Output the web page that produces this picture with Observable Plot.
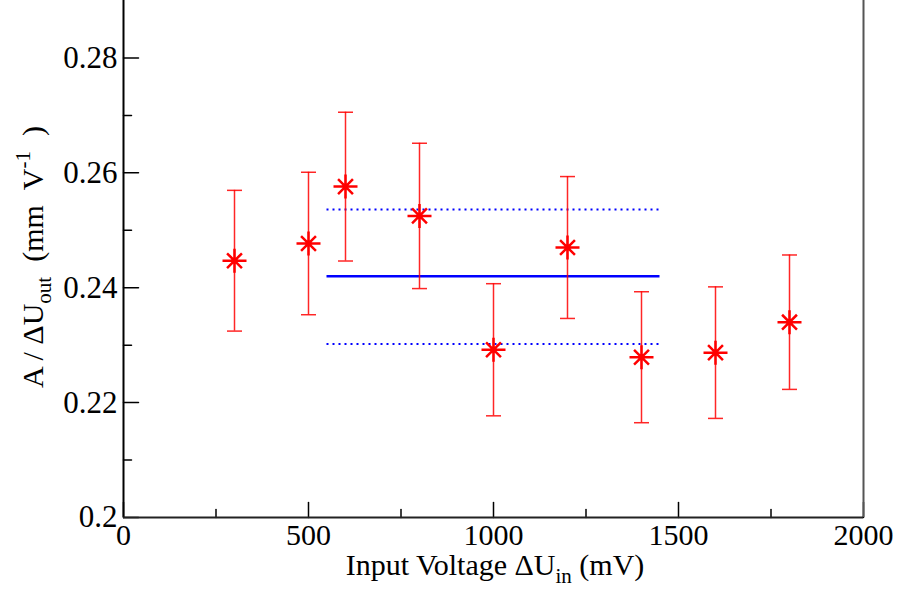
<!DOCTYPE html>
<html>
<head>
<meta charset="utf-8">
<script src="https://cdn.jsdelivr.net/npm/d3@7"></script>
<script src="https://cdn.jsdelivr.net/npm/@observablehq/plot@0.6"></script>
<style>
  html, body { margin: 0; padding: 0; background: #fff; }
  #chart svg { display: block; }
  #chart svg text { font-family: 'Liberation Serif', 'Times New Roman', serif; }
</style>
</head>
<body>
<div id="chart"></div>
<script>
// Data
const voltage = [300, 500, 600, 800, 1000, 1200, 1400, 1600, 1800];   // mV
const ratio   = [0.2447, 0.2477, 0.2576, 0.2525, 0.2292, 0.2470, 0.2279, 0.2287, 0.2340];
const errs    = [0.01225, 0.0124, 0.01295, 0.01265, 0.0115, 0.01235, 0.0114, 0.01145, 0.0117];
const fitRange = [550, 1450];
const fitMean = 0.2420;
const fitLow = 0.2302;
const fitHigh = 0.2536;
const xMajor = [0, 500, 1000, 1500, 2000];
const xMinor = [250, 750, 1250, 1750];
const yMajor = [0.2, 0.22, 0.24, 0.26, 0.28];
const yMinor = [0.21, 0.23, 0.25, 0.27];

const pts = voltage.map((v, i) => ({x: v, y: ratio[i], lo: ratio[i] - errs[i], hi: ratio[i] + errs[i]}));
const fitLines = [
  {x1: fitRange[0], x2: fitRange[1], y: fitMean, kind: "mean"},
  {x1: fitRange[0], x2: fitRange[1], y: fitLow, kind: "band"},
  {x1: fitRange[0], x2: fitRange[1], y: fitHigh, kind: "band"}
];

const starSymbol = {
  draw(ctx, size) {
    const r = Math.sqrt(size / Math.PI);
    const d = r * 0.62;
    ctx.moveTo(-r, 0); ctx.lineTo(r, 0);
    ctx.moveTo(0, -r); ctx.lineTo(0, r);
    ctx.moveTo(-d, -d); ctx.lineTo(d, d);
    ctx.moveTo(-d, d); ctx.lineTo(d, -d);
  }
};
const capSymbol = {
  draw(ctx, size) {
    const r = Math.sqrt(size / Math.PI);
    ctx.moveTo(-r, 0); ctx.lineTo(r, 0);
  }
};
const lineShape = {
  draw(ctx, l) { ctx.moveTo(0, 0); ctx.lineTo(0, -l); }
};

const font = "'Liberation Serif', 'Times New Roman', serif";

const chart = Plot.plot({
  width: 897,
  height: 592,
  marginLeft: 123,
  marginRight: 34,
  marginTop: 0,
  marginBottom: 75,
  style: {fontFamily: font, background: "#fff", overflow: "visible"},
  x: {domain: [0, 2000], label: null},
  y: {domain: [0.2, 0.29], label: null},
  marks: [
    Plot.axisX(xMajor, {tickSize: 0, tickPadding: 6, fontSize: 30, fontFamily: font, fill: "#000", tickFormat: d => String(d)}),
    Plot.axisY(yMajor, {tickSize: 0, tickPadding: 6, fontSize: 31, fontFamily: font, fill: "#000", tickFormat: d => (d === 0.2 ? "0.2" : d.toFixed(2))}),
    // inward ticks
    Plot.vector(xMajor, {x: d => d, frameAnchor: "bottom", length: 15, rotate: 0, anchor: "start", shape: lineShape, stroke: "#000", strokeWidth: 1.5}),
    Plot.vector(xMinor, {x: d => d, frameAnchor: "bottom", length: 8, rotate: 0, anchor: "start", shape: lineShape, stroke: "#000", strokeWidth: 1.5}),
    Plot.vector(yMajor, {y: d => d, frameAnchor: "left", length: 15, rotate: 90, anchor: "start", shape: lineShape, stroke: "#000", strokeWidth: 1.5}),
    Plot.vector(yMinor, {y: d => d, frameAnchor: "left", length: 8, rotate: 90, anchor: "start", shape: lineShape, stroke: "#000", strokeWidth: 1.5}),
    // frame
    Plot.ruleX([2000], {stroke: "#555", strokeWidth: 2}),
    Plot.ruleX([0], {stroke: "#000", strokeWidth: 2}),
    Plot.ruleY([0.2], {stroke: "#222", strokeWidth: 2}),
    // fit lines
    Plot.ruleY(fitLines.filter(d => d.kind === "mean"), {x1: "x1", x2: "x2", y: "y", stroke: "#0000ff", strokeWidth: 2.5}),
    Plot.ruleY(fitLines.filter(d => d.kind === "band"), {x1: "x1", x2: "x2", y: "y", stroke: "#0000ff", strokeWidth: 2, strokeDasharray: "2,4"}),
    // error bars
    Plot.ruleX(pts, {x: "x", y1: "lo", y2: "hi", stroke: "#ff0000", strokeWidth: 1.5, strokeOpacity: 0.85}),
    Plot.dot(pts, {x: "x", y: "lo", symbol: capSymbol, r: 7.5, stroke: "#ff0000", strokeWidth: 1.5, strokeOpacity: 0.85}),
    Plot.dot(pts, {x: "x", y: "hi", symbol: capSymbol, r: 7.5, stroke: "#ff0000", strokeWidth: 1.5, strokeOpacity: 0.85}),
    // star markers
    Plot.dot(pts, {x: "x", y: "y", symbol: starSymbol, r: 12, stroke: "#ff0000", strokeWidth: 2.5})
  ]
});

document.getElementById("chart").appendChild(chart);

// Axis titles with sub/superscripts
const svg = d3.select(chart);
const xl = svg.append("text")
  .attr("x", 495).attr("y", 575)
  .attr("text-anchor", "middle")
  .attr("font-family", font).attr("font-size", 30).attr("fill", "#000");
xl.append("tspan").text("Input Voltage \u0394U");
xl.append("tspan").attr("font-size", 21).attr("dy", 8).text("in");
xl.append("tspan").attr("dy", -8).text("\u00a0(mV)");

const yl = svg.append("text")
  .attr("transform", "translate(43,257) rotate(-90)")
  .attr("text-anchor", "middle")
  .attr("font-family", font).attr("font-size", 30).attr("fill", "#000");
yl.append("tspan").text("A / \u0394U");
yl.append("tspan").attr("font-size", 21).attr("dy", 8).text("out");
yl.append("tspan").attr("dy", -8).text("\u00a0\u00a0(mm\u00a0\u00a0V");
yl.append("tspan").attr("font-size", 21).attr("dy", -13).text("-1");
yl.append("tspan").attr("dy", 13).text("\u00a0\u00a0)");
</script>
</body>
</html>
